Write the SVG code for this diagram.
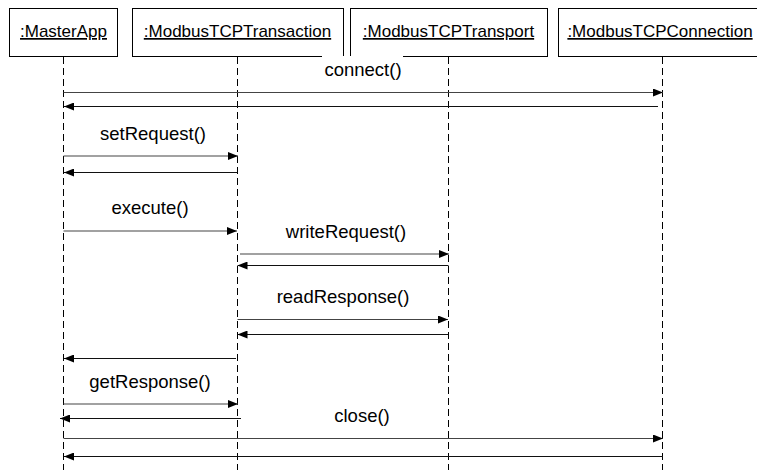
<svg xmlns="http://www.w3.org/2000/svg" width="757" height="470" viewBox="0 0 757 470">
<defs>
<marker id="ah" viewBox="0 0 10 8" refX="10" refY="4" markerWidth="10" markerHeight="8" markerUnits="userSpaceOnUse" orient="auto">
<path d="M0,0 L10,4 L0,8 Z" fill="#000"/>
</marker>
</defs>
<style>
.box{fill:#fff;stroke:#000;stroke-width:1}
.obj{font-family:"Liberation Sans",Arial,sans-serif;font-size:17px;text-decoration:underline;text-anchor:middle;fill:#000}
.life{stroke:#000;stroke-width:1;stroke-dasharray:7,4;fill:none}
.msg{stroke:#444;stroke-width:1.2;fill:none;marker-end:url(#ah)}
.ret{stroke:#111;stroke-width:1;fill:none;marker-end:url(#ah)}
.lbl{font-family:"Liberation Sans",Arial,sans-serif;font-size:18.5px;text-anchor:middle;fill:#000}
</style>
<rect width="757" height="470" fill="#fff"/>
<g id="lifelines">
<line class="life" x1="63.5" y1="57" x2="63.5" y2="470"/>
<line class="life" x1="237.5" y1="57" x2="237.5" y2="470"/>
<line class="life" x1="448.5" y1="57" x2="448.5" y2="470"/>
<line class="life" x1="662.5" y1="57" x2="662.5" y2="470"/>
</g>
<g id="MasterApp">
<rect class="box" x="9.5" y="8.5" width="108" height="48"/>
<text class="obj" x="63.5" y="37">:MasterApp</text>
</g>
<g id="ModbusTCPTransaction">
<rect class="box" x="132.5" y="8.5" width="211" height="48"/>
<text class="obj" x="237.5" y="37">:ModbusTCPTransaction</text>
</g>
<g id="ModbusTCPTransport">
<rect class="box" x="350.5" y="8.5" width="197" height="48"/>
<text class="obj" x="448.5" y="37">:ModbusTCPTransport</text>
</g>
<g id="ModbusTCPConnection">
<rect class="box" x="558.5" y="8.5" width="210" height="48"/>
<text class="obj" x="660" y="37">:ModbusTCPConnection</text>
</g>
<g id="connectors">
<rect x="322" y="56" width="81" height="26" fill="#fff"/>
<text class="lbl" x="363" y="76">connect()</text>
<line class="msg" x1="63.5" y1="92.5" x2="663" y2="92.5"/>
<line class="ret" x1="658" y1="106.5" x2="64" y2="106.5"/>
<text class="lbl" x="153" y="140">setRequest()</text>
<line class="msg" x1="63.5" y1="156" x2="238" y2="156"/>
<line class="ret" x1="237.5" y1="172.5" x2="64" y2="172.5"/>
<text class="lbl" x="150" y="214">execute()</text>
<line class="msg" x1="63.5" y1="231" x2="237" y2="231"/>
<text class="lbl" x="346" y="238">writeRequest()</text>
<line class="msg" x1="240" y1="254" x2="449" y2="254"/>
<line class="ret" x1="448.5" y1="265.5" x2="237.5" y2="265.5"/>
<text class="lbl" x="343" y="303">readResponse()</text>
<line class="msg" x1="237.5" y1="319.5" x2="448" y2="319.5"/>
<line class="ret" x1="448.5" y1="334.5" x2="237.5" y2="334.5"/>
<line class="ret" x1="236" y1="358.5" x2="64" y2="358.5"/>
<text class="lbl" x="150" y="388">getResponse()</text>
<line class="msg" x1="63.5" y1="404" x2="238" y2="404"/>
<line class="ret" x1="241" y1="418.5" x2="60" y2="418.5"/>
<text class="lbl" x="362" y="422">close()</text>
<line class="msg" x1="63.5" y1="438.5" x2="663" y2="438.5"/>
<line class="ret" x1="663" y1="456.5" x2="64" y2="456.5"/>
</g>
</svg>
